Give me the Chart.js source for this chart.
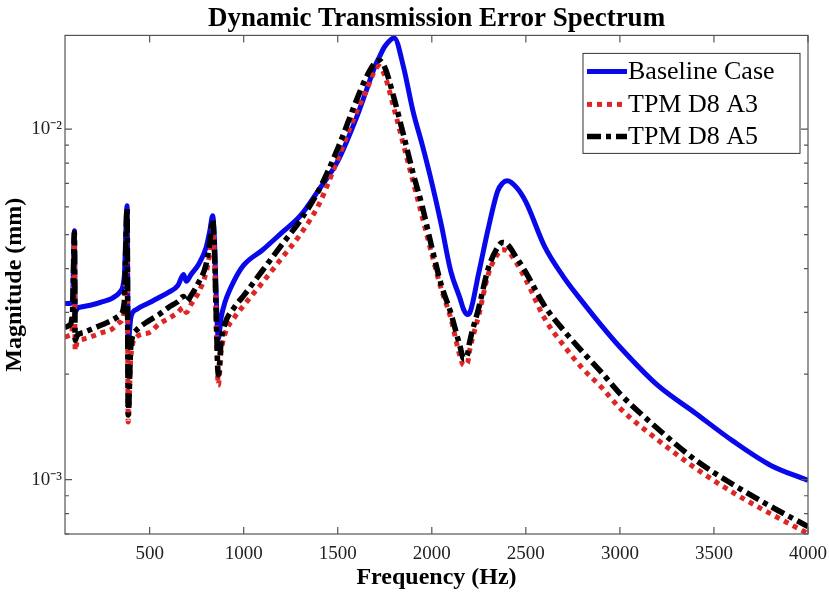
<!DOCTYPE html>
<html><head><meta charset="utf-8">
<script src="https://cdn.jsdelivr.net/npm/chart.js@4/dist/chart.umd.min.js"></script>
<style>html,body{margin:0;padding:0;background:#fff}#wrap{width:829px;height:594px}</style>
</head><body><div id="wrap"><canvas id="c" width="829" height="594"></canvas></div>
<script>
const seriesNames = ['Baseline Case', 'TPM D8 A3', 'TPM D8 A5'];
const freqHz = [50,75,90,100,104,115,150,200,250,300,340,365,380,386,400,430,500,550,600,650,680,695,720,760,800,820,835,845,855,865,880,900,950,1000,1100,1200,1300,1400,1500,1600,1650,1700,1720,1750,1800,1850,1900,1950,2000,2050,2100,2150,2170,2190,2200,2250,2300,2350,2375,2400,2450,2500,2600,2700,2800,2900,3000,3200,3400,3600,3800,4000];
const baselineCase = [0.00318,0.00318,0.00325,0.00513,0.00300,0.00308,0.00312,0.00316,0.00322,0.00329,0.00342,0.00378,0.00604,0.00245,0.00290,0.00306,0.00320,0.00331,0.00342,0.00358,0.00385,0.00368,0.00385,0.00411,0.00459,0.00513,0.00566,0.00475,0.00320,0.00252,0.00290,0.00320,0.00370,0.00409,0.00452,0.00505,0.00565,0.00672,0.00810,0.0108,0.0128,0.0152,0.0160,0.0172,0.0182,0.0150,0.01125,0.00898,0.00703,0.00535,0.00395,0.00329,0.00305,0.00296,0.00298,0.00390,0.00520,0.00665,0.00700,0.00712,0.00682,0.00620,0.00462,0.00379,0.00322,0.00276,0.00239,0.00186,0.00155,0.00129,0.00110,0.000995];
const tpmD8A3 = [0.00255,0.00258,0.00272,0.00490,0.00234,0.00247,0.00252,0.00257,0.00263,0.00269,0.00281,0.00304,0.00560,0.00146,0.00224,0.00255,0.00263,0.00278,0.00288,0.00300,0.00310,0.00300,0.00316,0.00342,0.00390,0.00444,0.00523,0.00422,0.00263,0.00186,0.00231,0.00260,0.00290,0.00314,0.00365,0.00427,0.00500,0.00610,0.00820,0.0112,0.0128,0.0148,0.0151,0.0142,0.0114,0.0090,0.0071,0.0056,0.0044,0.0035,0.0029,0.00225,0.00212,0.00215,0.00232,0.00295,0.00385,0.00440,0.00453,0.00450,0.00415,0.00372,0.00288,0.00242,0.00208,0.00184,0.00160,0.00130,0.00108,0.00092,0.00080,0.000702];
const tpmD8A5 = [0.00272,0.00276,0.00300,0.00506,0.00250,0.00258,0.00263,0.00270,0.00277,0.00285,0.00294,0.00320,0.00594,0.00153,0.00240,0.00267,0.00285,0.00296,0.00310,0.00322,0.00333,0.00322,0.00335,0.00365,0.00411,0.00475,0.00551,0.00444,0.00281,0.00199,0.00247,0.00278,0.00310,0.00335,0.00395,0.00466,0.00548,0.00670,0.00880,0.0121,0.0140,0.0155,0.0157,0.0150,0.0122,0.0096,0.0075,0.0060,0.0046,0.0036,0.0030,0.00240,0.00221,0.00228,0.00245,0.00310,0.00400,0.00460,0.00475,0.00470,0.00430,0.00390,0.00313,0.00267,0.00232,0.00203,0.00176,0.00140,0.00114,0.00097,0.00084,0.000735];
const xTickValues = [500,1000,1500,2000,2500,3000,3500,4000];
const yMajorTicks = [0.001, 0.01];
const yMinorTicks = [0.0007,0.0008,0.0009,0.002,0.003,0.004,0.005,0.006,0.007,0.008,0.009];
const yTickLabels = {'0.001':'10\u207B\u00B3', '0.01':'10\u207B\u00B2'};

const FONT = "'Liberation Serif', 'Times New Roman', serif";
const styles = [
  {color:'rgb(8,8,235)', dash:[], width:5, order:3},
  {color:'rgb(222,38,38)', dash:[5,5], width:5, order:2},
  {color:'#000000', dash:[14,5,5,5], width:5.5, order:1}
];
const seriesValues = [baselineCase, tpmD8A3, tpmD8A5];

const datasets = seriesNames.map((name, i) => ({
  label: name,
  data: freqHz.map((f, k) => ({x: f, y: seriesValues[i][k]})),
  borderColor: styles[i].color,
  backgroundColor: styles[i].color,
  borderWidth: styles[i].width,
  borderDash: styles[i].dash,
  borderCapStyle: 'butt',
  pointRadius: 0,
  cubicInterpolationMode: 'monotone',
  fill: false,
  order: styles[i].order
}));

const decor = {
  id: 'decor',
  afterDraw(chart) {
    const {ctx, chartArea: ca, scales: {x, y}} = chart;
    ctx.save();
    ctx.strokeStyle = '#555555';
    ctx.lineWidth = 1.2;
    ctx.strokeRect(ca.left, ca.top, ca.right - ca.left, ca.bottom - ca.top);
    ctx.beginPath();
    xTickValues.forEach(v => {
      const p = x.getPixelForValue(v);
      ctx.moveTo(p, ca.bottom); ctx.lineTo(p, ca.bottom - 7);
      ctx.moveTo(p, ca.top); ctx.lineTo(p, ca.top + 7);
    });
    const yt = (v, len) => {
      const p = y.getPixelForValue(v);
      ctx.moveTo(ca.left, p); ctx.lineTo(ca.left + len, p);
      ctx.moveTo(ca.right, p); ctx.lineTo(ca.right - len, p);
    };
    yMajorTicks.forEach(v => yt(v, 7));
    yMinorTicks.forEach(v => yt(v, 4));
    ctx.stroke();

    // legend
    const w = 217, h = 100;
    const x0 = ca.right - 225, y0 = ca.top + 18;
    ctx.fillStyle = '#ffffff';
    ctx.fillRect(x0, y0, w, h);
    ctx.strokeStyle = '#333333';
    ctx.lineWidth = 1;
    ctx.strokeRect(x0, y0, w, h);
    const rows = [18, 51, 83];
    ctx.font = '26px ' + FONT;
    ctx.textBaseline = 'middle';
    ctx.textAlign = 'left';
    seriesNames.forEach((name, i) => {
      const ry = y0 + rows[i];
      ctx.beginPath();
      ctx.strokeStyle = styles[i].color;
      ctx.lineWidth = styles[i].width;
      ctx.lineCap = 'butt';
      ctx.setLineDash(styles[i].dash);
      ctx.moveTo(x0 + 4, ry); ctx.lineTo(x0 + 44, ry);
      ctx.stroke();
      ctx.setLineDash([]);
      ctx.fillStyle = '#000000';
      ctx.fillText(name, x0 + 45, ry + 1);
    });
    ctx.restore();
  }
};

new Chart(document.getElementById('c'), {
  type: 'line',
  data: { datasets },
  options: {
    responsive: false,
    animation: false,
    devicePixelRatio: 1,
    layout: { padding: { left: 0, right: 21, top: 0, bottom: 0 } },
    plugins: {
      legend: { display: false },
      tooltip: { enabled: false },
      title: {
        display: true,
        fullSize: false,
        text: 'Dynamic Transmission Error Spectrum',
        color: '#000',
        font: { family: FONT, size: 27, weight: 'bold' },
        padding: { top: 3, bottom: 0 }
      }
    },
    scales: {
      x: {
        type: 'linear',
        min: 50, max: 4000,
        grid: { display: false, drawTicks: false },
        border: { display: false },
        afterBuildTicks: s => { s.ticks = xTickValues.map(v => ({value: v})); },
        afterFit: s => { s.height = 60; s.paddingRight = 0; s.paddingLeft = 0; },
        ticks: {
          autoSkip: false, maxRotation: 0, padding: 9,
          color: '#222', font: { family: FONT, size: 19 },
          callback: v => String(v)
        },
        title: {
          display: true, text: 'Frequency (Hz)', color: '#000',
          font: { family: FONT, size: 24, weight: 'bold' },
          padding: { top: 0, bottom: 2 }
        }
      },
      y: {
        type: 'logarithmic',
        min: 0.0007, max: 0.0185,
        grid: { display: false, drawTicks: false },
        border: { display: false },
        afterBuildTicks: s => { s.ticks = yMajorTicks.concat(yMinorTicks).sort((a,b)=>a-b).map(v => ({value: v})); },
        afterFit: s => { s.width = 65; },
        ticks: {
          autoSkip: false, padding: 3,
          color: '#222', font: { family: FONT, size: 19 },
          callback: v => yTickLabels[String(v)] || ''
        },
        title: {
          display: true, text: 'Magnitude (mm)', color: '#000',
          font: { family: FONT, size: 24, weight: 'bold' },
          padding: { top: 0, bottom: 0 }
        }
      }
    }
  },
  plugins: [decor]
});
</script>
</body></html>
